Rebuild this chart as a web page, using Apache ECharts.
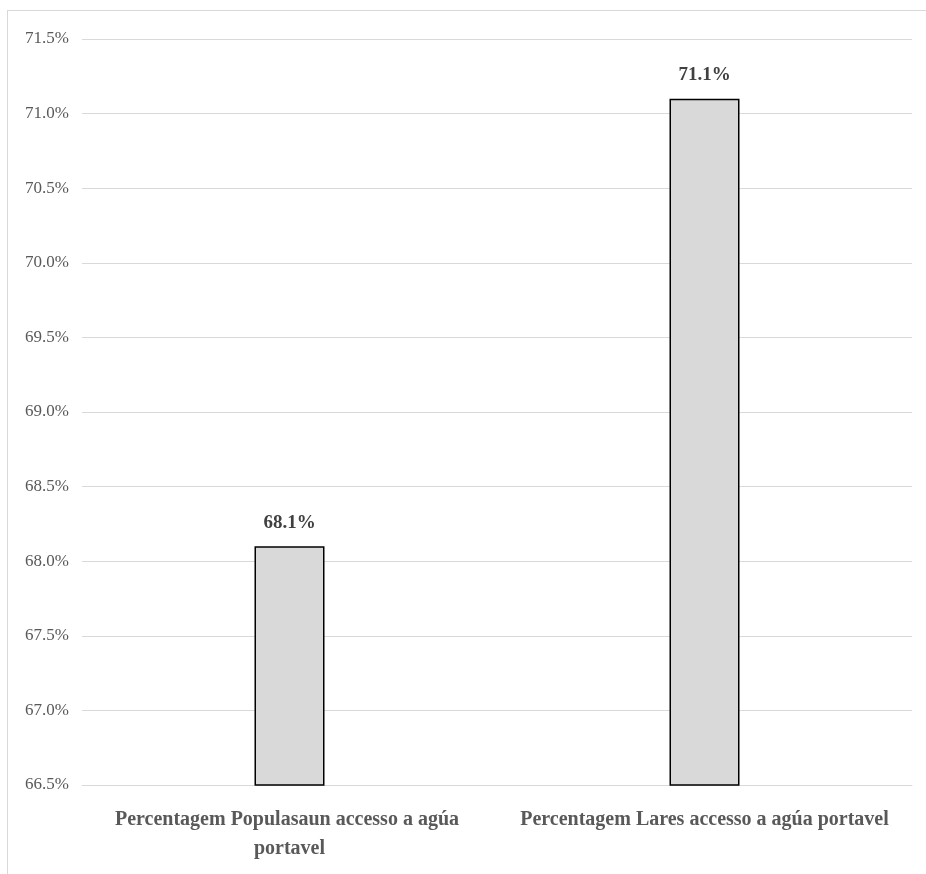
<!DOCTYPE html>
<html><head><meta charset="utf-8">
<script src="https://cdn.jsdelivr.net/npm/echarts@6/dist/echarts.min.js"></script>
<style>
html,body{margin:0;padding:0;background:#fff;}
#frame{position:absolute;left:7px;top:10px;width:940px;height:900px;border:1px solid #d9d9d9;box-sizing:border-box;}
#c{position:absolute;left:0;top:0;width:926px;height:874px;}
</style></head>
<body>
<div id="frame"></div>
<div id="c"></div>
<script>
const categories = ['Percentagem Populasaun accesso a agúa portavel', 'Percentagem Lares accesso a agúa portavel'];
const values = [68.1, 71.1];
const yMin = 66.5, yMax = 71.5, yStep = 0.5;

const chart = echarts.init(document.getElementById('c'));
chart.setOption({
  animation: false,
  grid: {left: 82, right: 14, top: 39, bottom: 89, containLabel: false},
  xAxis: {
    type: 'category', data: categories,
    axisLine: {show: true, lineStyle: {color: '#d9d9d9', width: 1}},
    axisTick: {show: false},
    axisLabel: {
      interval: 0, margin: 20, width: 400, overflow: 'break',
      fontFamily: 'Liberation Serif', fontWeight: 'bold', fontSize: 20, color: '#595959', lineHeight: 29
    }
  },
  yAxis: {
    type: 'value', min: yMin, max: yMax, interval: yStep,
    axisLine: {show: false}, axisTick: {show: false},
    splitLine: {lineStyle: {color: '#d9d9d9', width: 1}},
    axisLabel: {
      formatter: v => v.toFixed(1) + '%', margin: 13,
      fontFamily: 'Liberation Serif', fontSize: 17, color: '#595959'
    }
  },
  series: [{
    type: 'bar', data: values, barWidth: 70,
    itemStyle: {color: '#d9d9d9', borderColor: '#000', borderWidth: 1.5},
    label: {
      show: true, position: 'top', distance: 14,
      formatter: p => p.value.toFixed(1) + '%',
      fontFamily: 'Liberation Serif', fontWeight: 'bold', fontSize: 19, color: '#404040'
    }
  }]
});
</script>
</body></html>
